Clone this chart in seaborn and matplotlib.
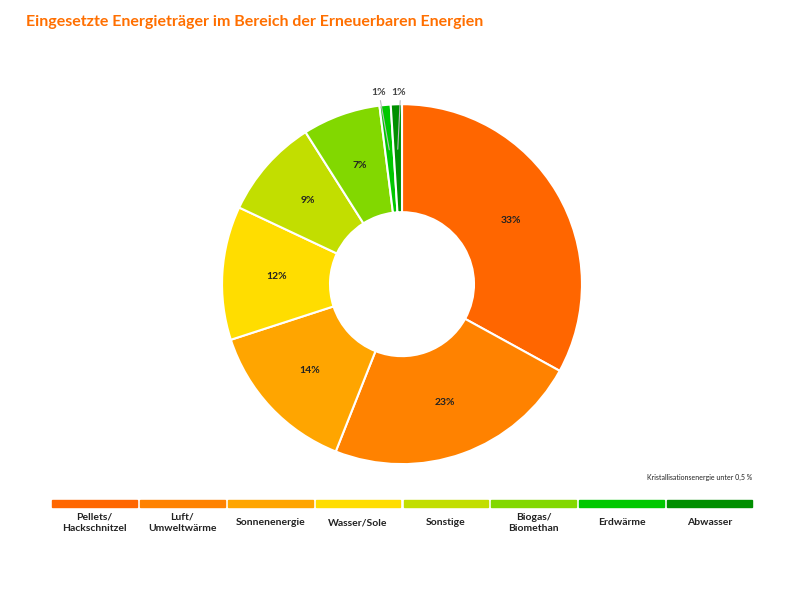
import numpy as np
import matplotlib
matplotlib.use("Agg")
import matplotlib.pyplot as plt
import seaborn as sns
from matplotlib.patches import Rectangle

categories = ["Pellets/\nHackschnitzel", "Luft/\nUmweltwärme", "Sonnenenergie", "Wasser/Sole",
              "Sonstige", "Biogas/\nBiomethan", "Erdwärme", "Abwasser"]
shares = [33, 23, 14, 12, 9, 7, 1, 1]
colors = ["#FF6600", "#FF8200", "#FFA500", "#FFDD00", "#C2DE00", "#82D800", "#00C800", "#008F00"]

sns.set_theme(style="white")
plt.rcParams["font.family"] = ["Lato", "DejaVu Sans"]

fig = plt.figure(figsize=(8, 5.92), dpi=100)
ax = fig.add_axes([0.2775, 0.216, 0.45, 0.608])

wedges, _ = ax.pie(shares, colors=colors, startangle=90, counterclock=False,
                   wedgeprops=dict(width=0.6, edgecolor="white", linewidth=1.5))
ax.set_xlim(-1, 1)
ax.set_ylim(-1, 1)
ax.set_aspect("equal")

small_shift = [-0.13, -0.02]
k = 0
for w, v in zip(wedges, shares):
    ang = np.deg2rad((w.theta1 + w.theta2) / 2)
    if v >= 5:
        ax.text(0.7 * np.cos(ang), 0.7 * np.sin(ang), f"{v}%", ha="center", va="center",
                fontsize=7.5, fontweight="bold", color="#222222")
    else:
        x, y = np.cos(ang), np.sin(ang)
        lx = small_shift[k]
        k += 1
        ax.plot([0.75 * x, lx + 0.01], [0.75 * y, 1.02], color="#bbbbbb", lw=0.8, clip_on=False)
        ax.text(lx, 1.04, f"{v}%", ha="center", va="bottom",
                fontsize=7.5, fontweight="bold", color="#444444")

fig.text(0.033, 0.962, "Eingesetzte Energieträger im Bereich der Erneuerbaren Energien",
         fontsize=11.5, fontweight="bold", color="#FF6F00", va="center")
fig.text(0.94, 0.193, "Kristallisationsenergie unter 0,5 %", fontsize=5, ha="right",
         color="#222222", va="center")

x0, x1, gap = 0.065, 0.94, 0.004
wbar = (x1 - x0 - gap * (len(categories) - 1)) / len(categories)
for i, (c, lab) in enumerate(zip(categories, colors)):
    left = x0 + i * (wbar + gap)
    fig.patches.append(Rectangle((left, 0.144), wbar, 0.012, transform=fig.transFigure,
                                 color=lab, figure=fig))
    fig.text(left + wbar / 2, 0.117, c, ha="center", va="center", fontsize=7.5,
             fontweight="bold", color="#222222", linespacing=1.3)

fig.savefig("out.png", dpi=100)
